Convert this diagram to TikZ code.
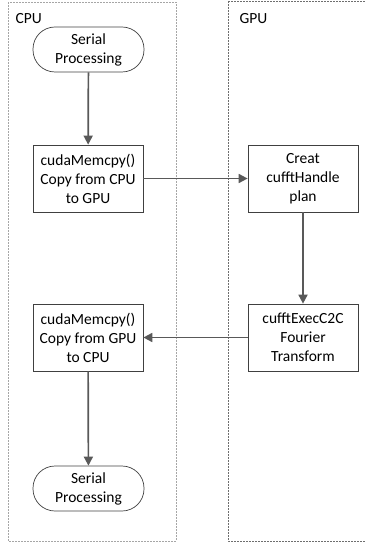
\documentclass[tikz,border=0pt]{standalone}
\usepackage{fontspec}
\setmainfont{Carlito}
\usetikzlibrary{arrows.meta}
\definecolor{lineg}{HTML}{595959}
\definecolor{cpulane}{HTML}{A6A6A6}
\definecolor{gpulane}{HTML}{6E6E6E}
\begin{document}
\begin{tikzpicture}[x=1pt,y=-1pt,
  every node/.style={font=\fontsize{15.5}{19}\selectfont},
  proc/.style={draw=black!75,line width=0.7pt,minimum width=110pt,minimum height=67pt,align=center,inner sep=0pt},
  term/.style={draw=black!75,line width=0.7pt,rounded corners=22pt,minimum width=111pt,minimum height=45pt,align=center,inner sep=0pt},
  flow/.style={draw=lineg,line width=1.7pt,-{Triangle[length=9pt,width=9pt]}},
  lane/.style={line width=0.7pt,dash pattern=on 2pt off 1pt}]
\useasboundingbox (0,0) rectangle (365,545);
% swim lanes
\draw[lane,cpulane] (8,2) rectangle (176,541);
\draw[lane,gpulane] (228,1) -- (228,541) -- (370,541);
\draw[lane,gpulane] (228,1) -- (370,1);
\node[anchor=west] (cpu) at (12,19) {CPU};
\node[anchor=west] (gpu) at (236,19) {GPU};
% flow steps
\node[term] (s1) at (88.5,49.5) {Serial\\Processing};
\node[proc] (c1) at (88,178.5) {cudaMemcpy()\\Copy from CPU\\to GPU};
\node[proc] (g1) at (303,178.5) {Creat\\cufftHandle\\plan};
\node[proc] (g2) at (303,337.5) {cufftExecC2C\\Fourier\\Transform};
\node[proc] (c2) at (88,337.5) {cudaMemcpy()\\Copy from GPU\\to CPU};
\node[term] (s2) at (88.5,488.5) {Serial\\Processing};
% connectors
\draw[flow] (s1) -- (c1);
\draw[flow] (c1) -- (g1);
\draw[flow] (g1) -- (g2);
\draw[flow] (g2) -- (c2);
\draw[flow] (c2) -- (s2);
\end{tikzpicture}
\end{document}
